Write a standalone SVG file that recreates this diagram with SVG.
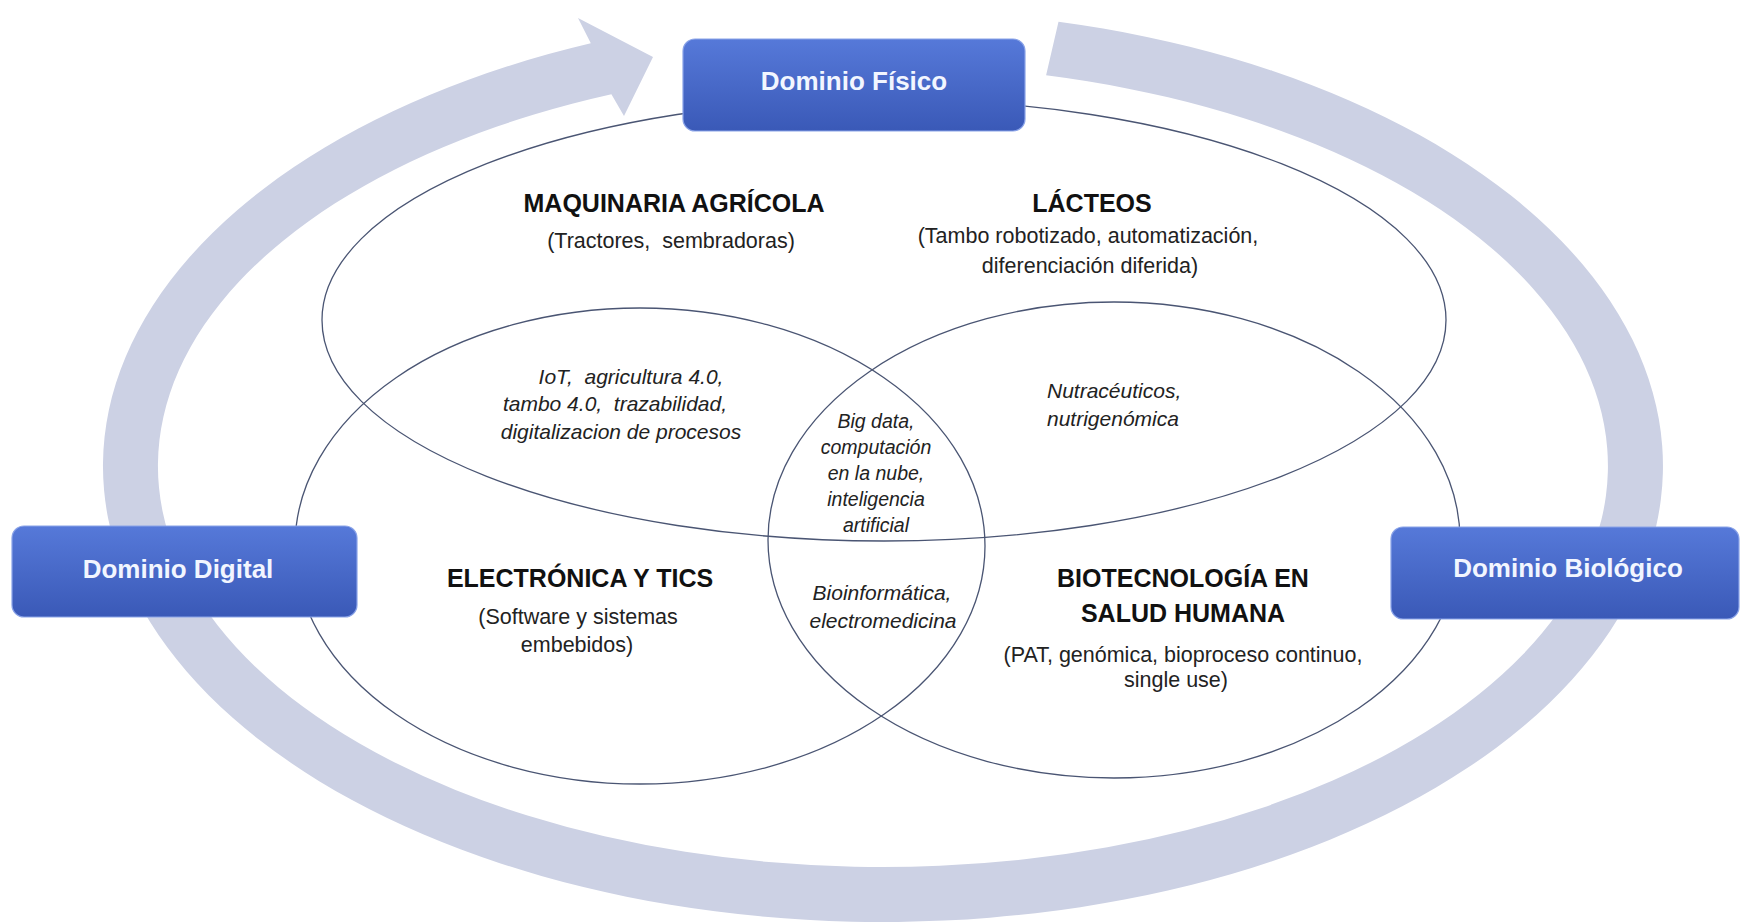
<svg xmlns="http://www.w3.org/2000/svg" width="1741" height="922" viewBox="0 0 1741 922">
<defs>
<linearGradient id="boxGrad" x1="0" y1="0" x2="0" y2="1">
<stop offset="0" stop-color="#5679d9"/>
<stop offset="1" stop-color="#3a59b7"/>
</linearGradient>
<style>
.box{fill:url(#boxGrad);stroke:#8aa3e8;stroke-width:1.2}
.boxlabel{font-family:"Liberation Sans",Arial,sans-serif;font-weight:bold;font-size:26px;fill:#f2f6ff;text-anchor:middle}
.set{fill:none;stroke:#4a5573;stroke-width:1.3}
.head{font-family:"Liberation Sans",Arial,sans-serif;font-weight:bold;font-size:25px;fill:#111;text-anchor:middle}
.sub{font-family:"Liberation Sans",Arial,sans-serif;font-size:21.5px;fill:#222;text-anchor:middle}
.it{font-family:"Liberation Sans",Arial,sans-serif;font-style:italic;font-size:21px;fill:#222;text-anchor:middle}
.itsm{font-family:"Liberation Sans",Arial,sans-serif;font-style:italic;font-size:19.5px;fill:#222;text-anchor:middle}
.ring{fill:#ccd1e4;stroke:none}
</style>
</defs>
<rect width="1741" height="922" fill="#ffffff"/>
<g id="connectors">
<path class="ring" d="M 1058.5 21.7 A 780 456 0 1 1 590.8 43.2 L 578 18 L 653 57 L 624 116 L 611.4 94.2 A 725 401 0 1 0 1046.1 75.3 Z"/>
</g>
<g id="set-fisico">
<ellipse class="set" cx="884" cy="320" rx="562" ry="221"/>
</g>
<g id="set-digital">
<ellipse class="set" cx="640" cy="546" rx="345" ry="238"/>
</g>
<g id="set-biologico">
<ellipse class="set" cx="1114" cy="540" rx="346" ry="238"/>
</g>
<g id="node-fisico">
<rect class="box" x="683" y="39" width="342" height="92" rx="12"/>
<text class="boxlabel" x="854" y="90">Dominio Físico</text>
</g>
<g id="node-digital">
<rect class="box" x="12" y="526" width="345" height="91" rx="12"/>
<text class="boxlabel" x="178" y="578">Dominio Digital</text>
</g>
<g id="node-biologico">
<rect class="box" x="1391" y="527" width="348" height="92" rx="12"/>
<text class="boxlabel" x="1568" y="577">Dominio Biológico</text>
</g>
<g id="label-maquinaria">
<text class="head" x="674" y="212" font-size="26.5">MAQUINARIA AGRÍCOLA</text>
<text class="sub" x="671" y="248" xml:space="preserve">(Tractores,  sembradoras)</text>
</g>
<g id="label-lacteos">
<text class="head" x="1092" y="212">LÁCTEOS</text>
<text class="sub" x="1088" y="243">(Tambo robotizado, automatización,</text>
<text class="sub" x="1090" y="273">diferenciación diferida)</text>
</g>
<g id="label-iot">
<text class="it" x="631" y="384" xml:space="preserve">IoT,  agricultura 4.0,</text>
<text class="it" x="615" y="411" xml:space="preserve">tambo 4.0,  trazabilidad,</text>
<text class="it" x="621" y="439">digitalizacion de procesos</text>
</g>
<g id="label-nutra">
<text class="it" x="1047" y="398" style="text-anchor:start">Nutracéuticos,</text>
<text class="it" x="1047" y="426" style="text-anchor:start">nutrigenómica</text>
</g>
<g id="label-bigdata">
<text class="itsm" x="876" y="428">Big data,</text>
<text class="itsm" x="876" y="454">computación</text>
<text class="itsm" x="876" y="480">en la nube,</text>
<text class="itsm" x="876" y="506">inteligencia</text>
<text class="itsm" x="876" y="532">artificial</text>
</g>
<g id="label-electronica">
<text class="head" x="580" y="587" font-size="24">ELECTRÓNICA Y TICS</text>
<text class="sub" x="578" y="624">(Software y sistemas</text>
<text class="sub" x="577" y="652">embebidos)</text>
</g>
<g id="label-bioinfo">
<text class="it" x="882" y="600" font-size="22.5">Bioinformática,</text>
<text class="it" x="883" y="628" font-size="22.5">electromedicina</text>
</g>
<g id="label-biotec">
<text class="head" x="1183" y="587">BIOTECNOLOGÍA EN</text>
<text class="head" x="1183" y="622">SALUD HUMANA</text>
<text class="sub" x="1183" y="662" font-size="22.5">(PAT, genómica, bioproceso continuo,</text>
<text class="sub" x="1176" y="687">single use)</text>
</g>
</svg>
